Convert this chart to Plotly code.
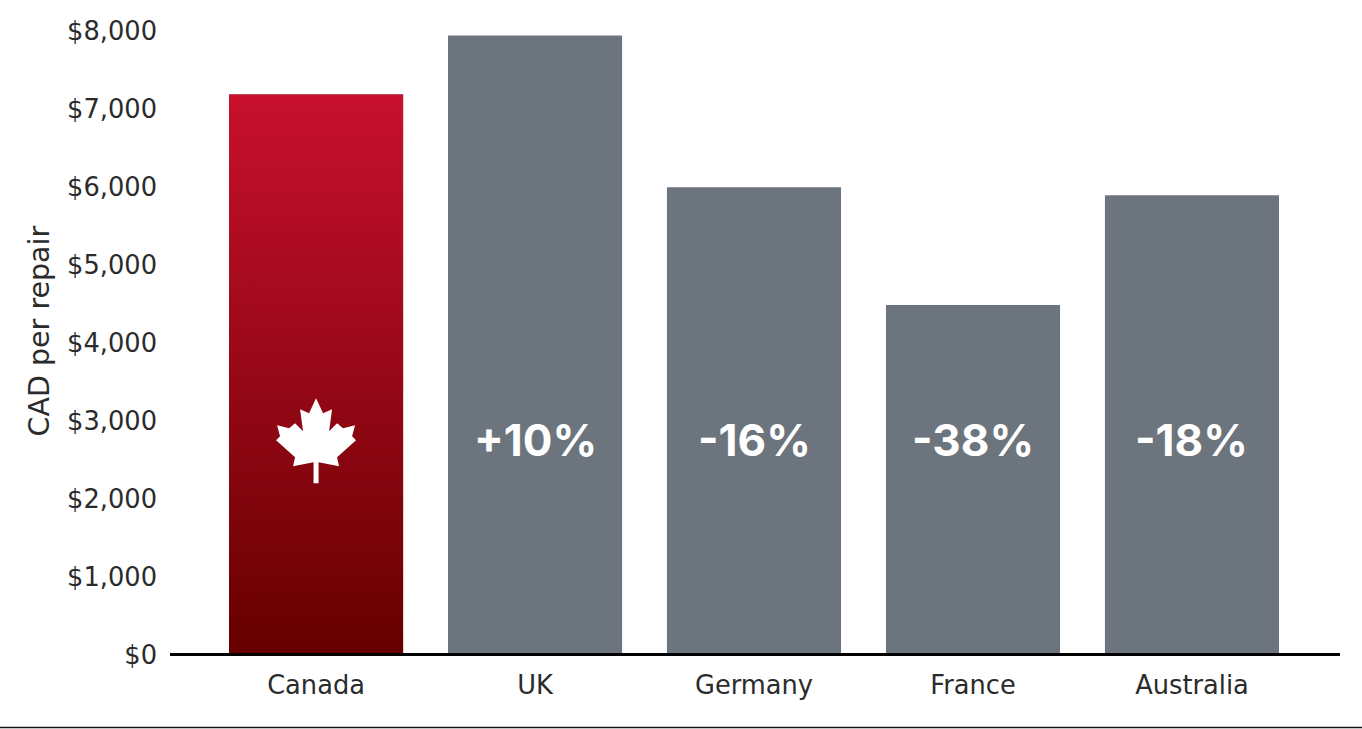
import plotly.graph_objects as go

# values
categories = ["Canada", "UK", "Germany", "France", "Australia"]
repair_cost = [7160, 7918, 5971, 4461, 5868]
pct_labels = ["", "+10%", "-16%", "-38%", "-18%"]
tick_vals = [0, 1000, 2000, 3000, 4000, 5000, 6000, 7000, 8000]
tick_text = ["$0", "$1,000", "$2,000", "$3,000", "$4,000", "$5,000", "$6,000", "$7,000", "$8,000"]

GREY = "#6c747d"
RED_TOP = "#c8102e"
RED_BOTTOM = "#660000"
TEXT = "#2b2b2b"
BAR_WIDTH = 0.795
LABEL_Y = 2727

# maple leaf outline, pixels around the icon centre (right half, then mirrored)
leaf_right = [(0, 42), (7, 27), (16, 31), (13, 9), (21, 17), (27, 12), (39, 15), (36, 4), (40, 0),
              (21, -17), (23, -26), (2.5, -22), (2.5, -43)]
leaf_pts = leaf_right + [(-x, y) for x, y in reversed(leaf_right)][:-1]
leaf_path = "M " + " L ".join(f"{x} {y}" for x, y in leaf_pts) + " Z"

fig = go.Figure()

x_pos = list(range(len(categories)))
bar_colors = [RED_BOTTOM] + [GREY] * (len(categories) - 1)
fig.add_trace(go.Bar(x=x_pos, y=repair_cost, width=BAR_WIDTH, marker=dict(color=bar_colors, line_width=0),
                     text=pct_labels, textposition="none", hoverinfo="x+y", showlegend=False))

# gradient over the Canada bar, same value as the bar
left, right = x_pos[0] - BAR_WIDTH / 2, x_pos[0] + BAR_WIDTH / 2
fig.add_trace(go.Scatter(x=[left, left, right, right], y=[0, repair_cost[0], repair_cost[0], 0],
                         mode="none", fill="toself", showlegend=False, hoverinfo="skip",
                         fillgradient=dict(type="vertical", start=repair_cost[0], stop=0,
                                           colorscale=[[0, RED_TOP], [1, RED_BOTTOM]])))

for i, label in enumerate(pct_labels):
    if label:
        fig.add_annotation(x=x_pos[i], y=LABEL_Y, text=f"<b>{label}</b>", showarrow=False,
                           font=dict(family="Inter", size=44, color="white"))

fig.add_shape(type="path", path=leaf_path, xref="x", yref="y", xsizemode="pixel", ysizemode="pixel",
              xanchor=x_pos[0], yanchor=LABEL_Y, fillcolor="white", line_width=0)

# thin rule along the bottom edge of the picture
fig.add_shape(type="line", xref="paper", yref="paper", x0=-0.1453, x1=1.019, y0=-0.1192, y1=-0.1192,
              line=dict(color="#111111", width=1.5))

# axis title sits above the middle of the axis, so it is an annotation
fig.add_annotation(xref="paper", yref="paper", x=-0.127, y=0.5168, text="CAD per repair", textangle=-90,
                   showarrow=False, font=dict(size=28.5, color=TEXT))

fig.update_layout(
    width=1362,
    height=729,
    margin=dict(l=170, r=22, t=28.5, b=75.5, autoexpand=False),
    plot_bgcolor="white",
    paper_bgcolor="white",
    font=dict(family="DejaVu Sans", size=25.7, color=TEXT),
    bargap=0.2,
)
fig.update_xaxes(range=[-0.667, 4.676], tickmode="array", tickvals=x_pos, ticktext=categories,
                 showgrid=False, zeroline=False, showline=True, linecolor="black", linewidth=3,
                 ticks="", ticklabelstandoff=7)
fig.update_yaxes(range=[0, 8000], tickmode="array", tickvals=tick_vals, ticktext=tick_text,
                 showgrid=False, zeroline=False, showline=False, ticks="", ticklabelstandoff=12,
                 ticklabelshift=2)

fig.write_html("out.html", config=dict(displayModeBar=False),
               post_script="document.body.style.margin='0';")
